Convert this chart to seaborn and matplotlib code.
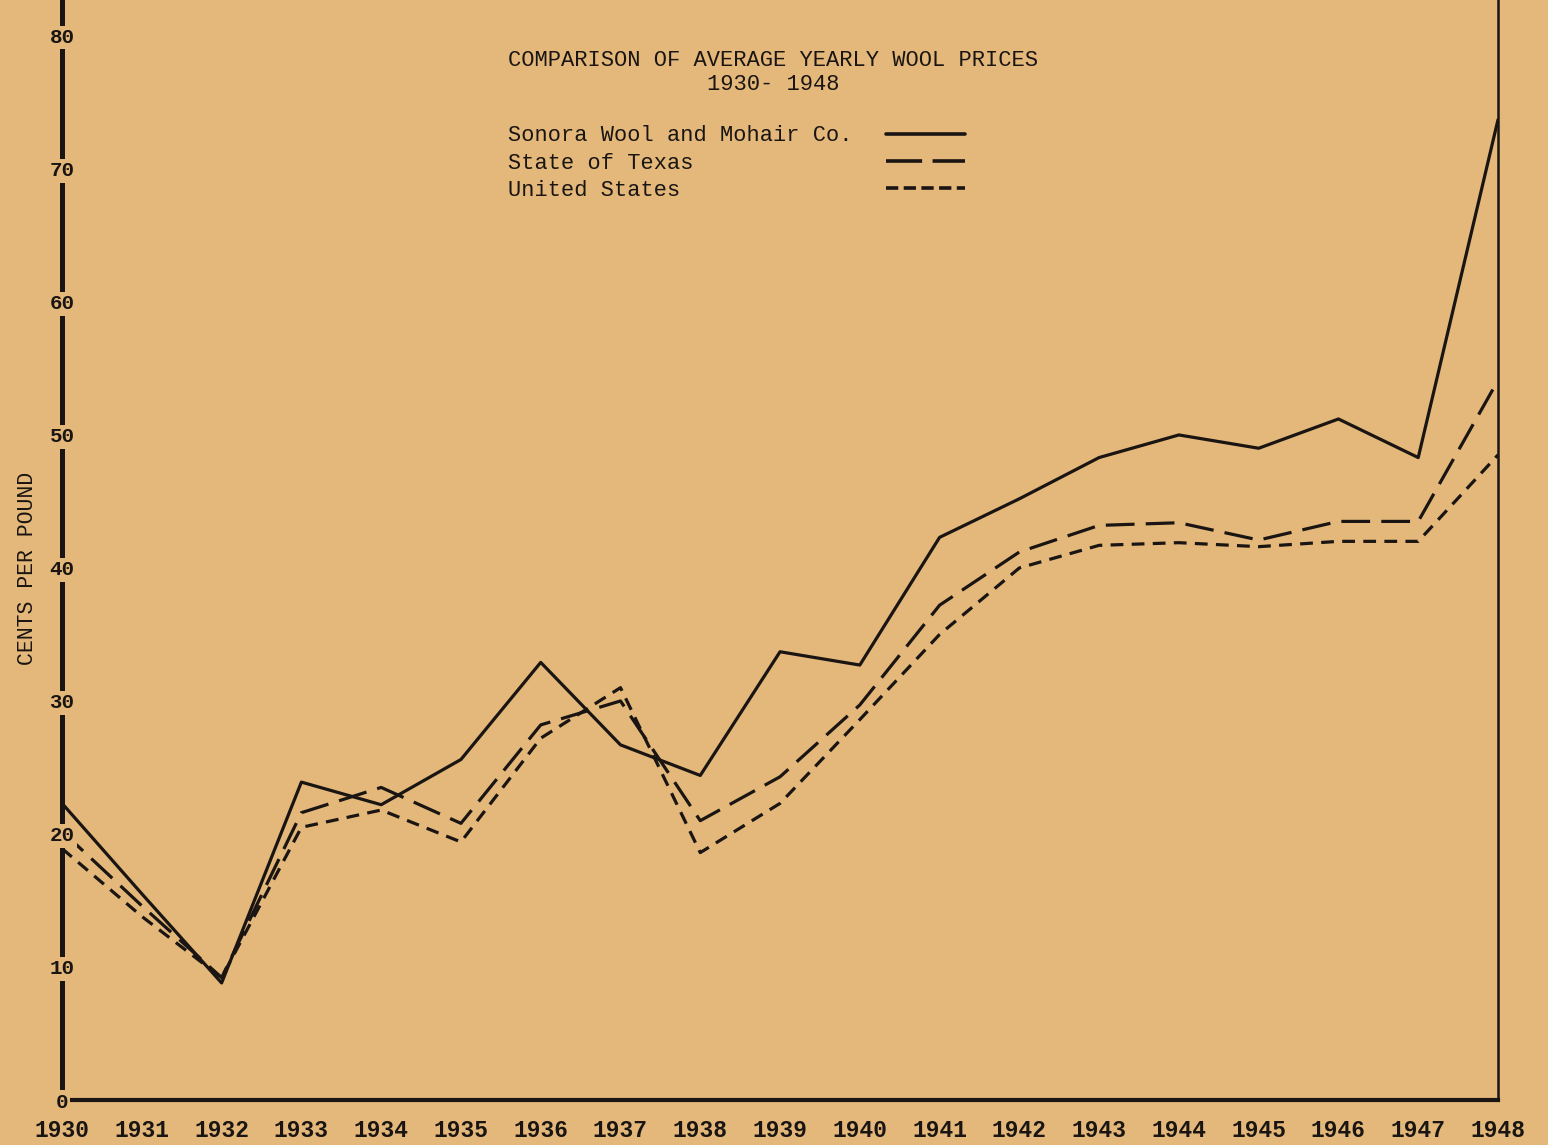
import pandas as pd
import numpy as np
import matplotlib
matplotlib.use('Agg')
import matplotlib.pyplot as plt
from matplotlib.lines import Line2D
import seaborn as sns

sns.set_theme(style='white')
plt.rcParams['font.family'] = ['Liberation Mono', 'DejaVu Sans Mono']

# average yearly wool prices, cents per pound
years = list(range(1930, 1949))
sonora = [22.3, 15.5, 8.8, 23.9, 22.2, 25.6, 32.9, 26.7, 24.4, 33.7,
          32.7, 42.3, 45.2, 48.3, 50.0, 49.0, 51.2, 48.3, 73.7]
texas = [20.2, 14.6, 9.2, 21.6, 23.5, 20.8, 28.2, 30.0, 21.0, 24.3,
         29.7, 37.2, 41.2, 43.2, 43.4, 42.1, 43.5, 43.5, 54.1]
us = [18.9, 13.8, 9.2, 20.5, 21.8, 19.4, 27.2, 31.0, 18.6, 22.3,
      28.6, 35.0, 40.0, 41.7, 41.9, 41.6, 42.0, 42.0, 48.5]

series_names = ['Sonora Wool and Mohair Co.', 'State of Texas', 'United States']
y_ticks = list(range(0, 90, 10))

df = pd.DataFrame({
    'year': years * 3,
    'price': sonora + texas + us,
    'series': np.repeat(series_names, len(years)),
})

bg = '#E3B87A'
ink = '#1a1512'

fig = plt.figure(figsize=(15.48, 11.45), dpi=100, facecolor=bg)
ax = fig.add_axes([0.0401, 0.0393, 0.9276, 0.9607])
ax.set_facecolor(bg)

dash_map = {
    series_names[0]: '',
    series_names[1]: (9, 3.5),
    series_names[2]: (4, 2.6),
}
sns.lineplot(data=df, x='year', y='price', style='series', dashes=dash_map,
             color=ink, lw=2.3, legend=False, ax=ax)

ax.set_xlim(1930, 1948)
ax.set_ylim(0, 82.7)

# spines
ax.spines['top'].set_visible(False)
ax.spines['left'].set_linewidth(3.6)
ax.spines['bottom'].set_linewidth(3.0)
ax.spines['right'].set_linewidth(1.8)
for s in ['left', 'bottom', 'right']:
    ax.spines[s].set_color(ink)

# ticks
ax.set_xticks(years)
ax.set_xticklabels([str(y) for y in years], fontsize=16.5, fontweight='bold', color=ink)
ax.set_yticks(y_ticks)
ax.set_yticklabels([str(t) for t in y_ticks], fontsize=15, fontweight='bold', color=ink)
ax.tick_params(axis='x', length=0, pad=14)
ax.tick_params(axis='y', length=0, pad=0)
for lbl in ax.get_yticklabels():
    lbl.set_horizontalalignment('center')
    lbl.set_bbox(dict(facecolor=bg, edgecolor='none', pad=1.5))
ax.yaxis.set_zorder(4)

ax.set_xlabel('')
ax.set_ylabel('CENTS PER POUND', fontsize=15.5, color=ink)
ax.yaxis.set_label_coords(-0.017, 40 / 82.7)

# title
ax.text(0.495, 0.955, 'COMPARISON OF AVERAGE YEARLY WOOL PRICES\n1930- 1948',
        transform=ax.transAxes, ha='center', va='top', fontsize=15.9,
        color=ink, linespacing=1.2)

# legend: labels on the left, line samples in a second legend on the right
leg_kw = dict(loc='upper left', frameon=False, fontsize=15.8,
              labelspacing=0.28, borderpad=0, borderaxespad=0)
text_leg = ax.legend(ax.lines[:3], series_names, bbox_to_anchor=(0.3106, 0.886),
                     handlelength=0, handletextpad=0, **leg_kw)
for t in text_leg.get_texts():
    t.set_color(ink)
ax.add_artist(text_leg)

samples = [
    Line2D([], [], color=ink, lw=2.6),
    Line2D([], [], color=ink, lw=2.6, dashes=(10, 2.9)),
    Line2D([], [], color=ink, lw=2.6, dashes=(3.4, 1.5)),
]
ax.legend(samples, [' '] * 3, bbox_to_anchor=(0.574, 0.886),
          handlelength=3.6, handletextpad=0, **leg_kw)

fig.savefig('out.png', dpi=100, facecolor=bg)
